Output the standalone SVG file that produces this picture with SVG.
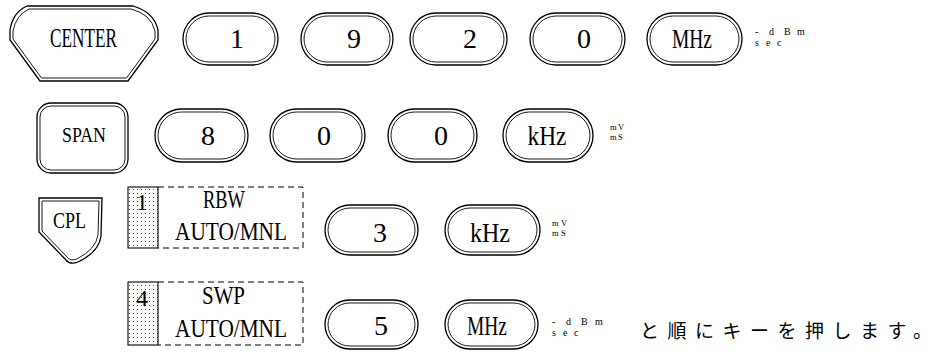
<svg xmlns="http://www.w3.org/2000/svg" width="942" height="352" viewBox="0 0 942 352">
<style>
.k{fill:#fff;stroke:#000;stroke-width:1.3}
.ki{fill:none;stroke:#000;stroke-width:0.9}
.t{font-family:"Liberation Serif","DejaVu Serif",serif;fill:#000;text-anchor:middle}
.d{font-size:28px}
.sup{font-family:"Liberation Serif","DejaVu Serif",serif;font-size:10px;fill:#000}
.sup2{font-family:"Liberation Serif","DejaVu Serif",serif;font-size:8.5px;fill:#000}
.jp{font-family:"Noto Sans CJK JP",sans-serif;font-size:19px;letter-spacing:8.5px;fill:#000}
.dash{fill:none;stroke:#000;stroke-width:1;stroke-dasharray:6 4}
.sh{fill:url(#dots);stroke:#000;stroke-width:1.1}
</style>
<defs>
<pattern id="dots" width="4" height="4" patternUnits="userSpaceOnUse">
<rect width="4" height="4" fill="#fff"/>
<rect x="1" y="1" width="1" height="1" fill="#555"/>
</pattern>
</defs>

<!-- Row 1 -->
<g id="key-center">
<path class="k" d="M27,6 L133,6 Q154,12 158,30 L158,40 L128,81 L40,81 L10,40 L10,30 Q13,12 27,6 Z"/>
<path class="ki" d="M29,9 L131,9 Q151,14 155,31 L155,39 L126.5,78 L41.5,78 L13,39 L13,31 Q16,15 29,9 Z"/>
<text class="t" x="83.5" y="47" font-size="27" textLength="67" lengthAdjust="spacingAndGlyphs">CENTER</text>
</g>
<g id="key-1">
<rect class="k" x="183" y="13" width="95" height="52" rx="26"/>
<rect class="ki" x="186" y="16" width="89" height="46" rx="23"/>
<text class="t d" x="237" y="48">1</text>
</g>
<g id="key-9">
<rect class="k" x="301" y="13" width="92" height="52" rx="26"/>
<rect class="ki" x="304" y="16" width="86" height="46" rx="23"/>
<text class="t d" x="354" y="48">9</text>
</g>
<g id="key-2">
<rect class="k" x="410" y="13" width="97" height="52" rx="26"/>
<rect class="ki" x="413" y="16" width="91" height="46" rx="23"/>
<text class="t d" x="470" y="48">2</text>
</g>
<g id="key-0a">
<rect class="k" x="530" y="13" width="95" height="52" rx="26"/>
<rect class="ki" x="533" y="16" width="89" height="46" rx="23"/>
<text class="t d" x="584" y="48">0</text>
</g>
<g id="key-mhz1">
<rect class="k" x="647" y="13" width="95" height="52" rx="26"/>
<rect class="ki" x="650" y="16" width="89" height="46" rx="23"/>
<text class="t d" x="692" y="48" textLength="40" lengthAdjust="spacingAndGlyphs">MHz</text>
</g>
<g id="unit1">
<text class="sup" x="755 769 784 797" y="35">-dBm</text>
<text class="sup" x="755 766 777" y="46">sec</text>
</g>

<!-- Row 2 -->
<g id="key-span">
<rect class="k" x="37" y="103" width="91" height="70" rx="14"/>
<rect class="ki" x="40" y="106" width="85" height="64" rx="11"/>
<text class="t" x="84" y="142" font-size="22" textLength="44" lengthAdjust="spacingAndGlyphs">SPAN</text>
</g>
<g id="key-8">
<rect class="k" x="155" y="109" width="93" height="53" rx="26.5"/>
<rect class="ki" x="158" y="112" width="87" height="47" rx="23.5"/>
<text class="t d" x="208" y="145">8</text>
</g>
<g id="key-0b">
<rect class="k" x="270" y="109" width="95" height="53" rx="26.5"/>
<rect class="ki" x="273" y="112" width="89" height="47" rx="23.5"/>
<text class="t d" x="324" y="145">0</text>
</g>
<g id="key-0c">
<rect class="k" x="388" y="109" width="89" height="53" rx="26.5"/>
<rect class="ki" x="391" y="112" width="83" height="47" rx="23.5"/>
<text class="t d" x="441" y="145">0</text>
</g>
<g id="key-khz2">
<rect class="k" x="503" y="109" width="90" height="53" rx="26.5"/>
<rect class="ki" x="506" y="112" width="84" height="47" rx="23.5"/>
<text class="t d" x="547" y="145" textLength="39" lengthAdjust="spacingAndGlyphs">kHz</text>
</g>
<g id="unit2">
<text class="sup2" x="610 618" y="130">mV</text>
<text class="sup2" x="610 618" y="140">mS</text>
</g>

<!-- Row 3 -->
<g id="key-cpl">
<path class="k" d="M39,198 L102,198 L101,236 Q99,252 78,262 Q70,265 66,260 L39,232 Z"/>
<path class="ki" d="M42,201 L99,201 L98,235 Q96,249 77,259 Q71,261 68,258 L42,231 Z"/>
<text class="t" x="69.5" y="228" font-size="24" textLength="33" lengthAdjust="spacingAndGlyphs">CPL</text>
</g>
<g id="softkey-rbw">
<rect class="sh" x="128" y="187" width="30" height="61"/>
<path class="dash" d="M158,187 H303 V248 H158"/>
<text class="t" x="142" y="210" font-size="24">1</text>
<text class="t" x="224" y="208" font-size="25" textLength="42" lengthAdjust="spacingAndGlyphs">RBW</text>
<text class="t" x="231" y="240" font-size="26" textLength="112" lengthAdjust="spacingAndGlyphs">AUTO/MNL</text>
</g>
<g id="key-3">
<rect class="k" x="325" y="205" width="93" height="50" rx="25"/>
<rect class="ki" x="328" y="208" width="87" height="44" rx="22"/>
<text class="t d" x="380" y="242">3</text>
</g>
<g id="key-khz3">
<rect class="k" x="445" y="205" width="95" height="50" rx="25"/>
<rect class="ki" x="448" y="208" width="89" height="44" rx="22"/>
<text class="t d" x="490" y="242" textLength="40" lengthAdjust="spacingAndGlyphs">kHz</text>
</g>
<g id="unit3">
<text class="sup2" x="552 561" y="226">mV</text>
<text class="sup2" x="552 561" y="236">mS</text>
</g>

<!-- Row 4 -->
<g id="softkey-swp">
<rect class="sh" x="128" y="282" width="30" height="63"/>
<path class="dash" d="M158,282 H303 V345 H158"/>
<text class="t" x="142" y="306" font-size="24">4</text>
<text class="t" x="223.5" y="304" font-size="25" textLength="43" lengthAdjust="spacingAndGlyphs">SWP</text>
<text class="t" x="231" y="337" font-size="26" textLength="112" lengthAdjust="spacingAndGlyphs">AUTO/MNL</text>
</g>
<g id="key-5">
<rect class="k" x="325" y="300" width="93" height="49" rx="24.5"/>
<rect class="ki" x="328" y="303" width="87" height="43" rx="21.5"/>
<text class="t d" x="381" y="335">5</text>
</g>
<g id="key-mhz4">
<rect class="k" x="445" y="300" width="93" height="49" rx="24.5"/>
<rect class="ki" x="448" y="303" width="87" height="43" rx="21.5"/>
<text class="t d" x="487" y="335" textLength="40" lengthAdjust="spacingAndGlyphs">MHz</text>
</g>
<g id="unit4">
<text class="sup" x="552 566 581 595" y="325">-dBm</text>
<text class="sup" x="552 563 574" y="336">sec</text>
</g>
<g id="caption">
<text class="jp" x="640" y="338">と順にキーを押します。</text>
</g>
<g id="connectors"/>
</svg>
